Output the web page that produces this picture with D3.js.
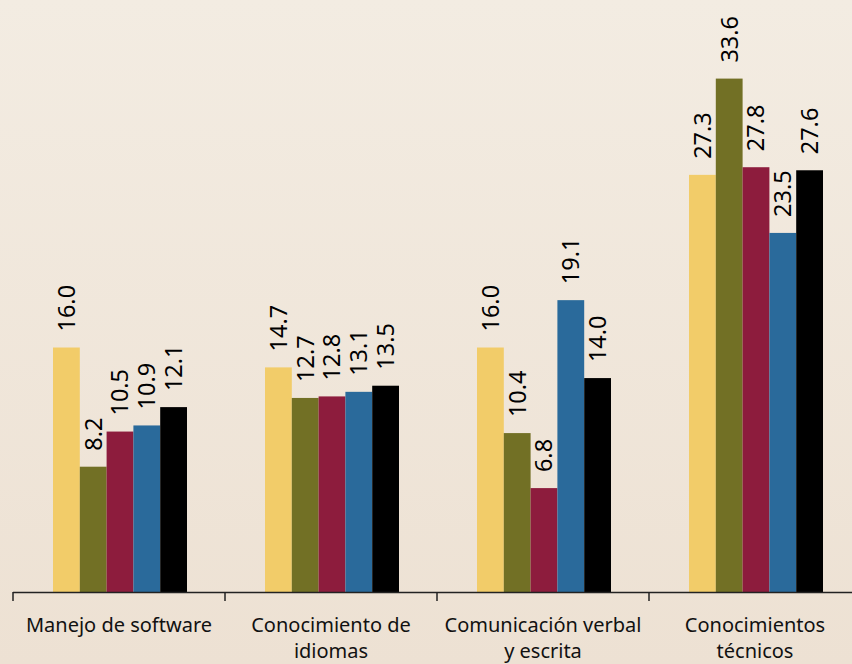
<!DOCTYPE html>
<html><head><meta charset="utf-8">
<script src="https://cdn.jsdelivr.net/npm/d3@7"></script>
<style>html,body{margin:0;padding:0;}svg{display:block;}</style>
</head><body>
<script>
const categories = [["Manejo de software"], ["Conocimiento de", "idiomas"], ["Comunicación verbal", "y escrita"], ["Conocimientos", "técnicos"]];
const seriesNames = ["S1", "S2", "S3", "S4", "S5"];
const s1 = [16.0, 14.7, 16.0, 27.3];
const s2 = [8.2, 12.7, 10.4, 33.6];
const s3 = [10.5, 12.8, 6.8, 27.8];
const s4 = [10.9, 13.1, 19.1, 23.5];
const s5 = [12.1, 13.5, 14.0, 27.6];
const seriesValues = [s1, s2, s3, s4, s5];
const colors = ["#f2cc69", "#727025", "#8d1c3d", "#2a6a9b", "#000000"];

const W = 852, H = 664;
const svg = d3.select("body").append("svg").attr("width", W).attr("height", H);
const defs = svg.append("defs");
const g = defs.append("linearGradient").attr("id", "bg").attr("x1", 0).attr("y1", 0).attr("x2", 0).attr("y2", 1);
g.append("stop").attr("offset", "0%").attr("stop-color", "#f3ece2");
g.append("stop").attr("offset", "100%").attr("stop-color", "#ede1d3");
svg.append("rect").attr("width", W).attr("height", H).attr("fill", "url(#bg)");

const x0 = d3.scaleBand().domain(d3.range(categories.length)).range([13, 861]).padding(0);
const x1 = d3.scaleBand().domain(d3.range(seriesNames.length)).range([40, 174]).padding(0);
const y = d3.scaleLinear().domain([0, 38]).range([592, 592 - 38 * 15.28]);

const groups = svg.selectAll("g.grp").data(categories).join("g")
  .attr("transform", (d, i) => `translate(${x0(i)},0)`);

groups.each(function(d, ci) {
  const gg = d3.select(this);
  seriesValues.forEach((vals, si) => {
    const v = vals[ci];
    gg.append("rect")
      .attr("x", x1(si)).attr("width", x1.bandwidth())
      .attr("y", y(v)).attr("height", y(0) - y(v))
      .attr("fill", colors[si]);
  });
  seriesValues.forEach((vals, si) => {
    const v = vals[ci];
    const cx = x1(si) + x1.bandwidth() / 2;
    gg.append("text")
      .attr("transform", `translate(${cx},${y(v) - 16}) rotate(-90)`)
      .attr("dy", "0.36em")
      .attr("text-anchor", "start")
      .attr("font-family", "Noto Sans, sans-serif")
      .attr("font-size", 23.5)
      .attr("fill", "#000")
      .text(v.toFixed(1));
  });
});

// axis
const ax = svg.append("g");
ax.append("line").attr("x1", x0.range()[0]).attr("x2", x0.range()[1]).attr("y1", 592.5).attr("y2", 592.5)
  .attr("stroke", "#222").attr("stroke-width", 1.5);
const tickPos = d3.range(categories.length + 1).map(i => i < categories.length ? x0(i) : x0.range()[1]);
ax.selectAll("line.tick").data(tickPos).join("line")
  .attr("x1", d => d).attr("x2", d => d).attr("y1", 592).attr("y2", 601)
  .attr("stroke", "#222").attr("stroke-width", 1.5);

categories.forEach((lines, i) => {
  const t = svg.append("text")
    .attr("x", x0(i) + x0.bandwidth() / 2).attr("y", 632)
    .attr("text-anchor", "middle")
    .attr("font-family", "Noto Sans, sans-serif")
    .attr("font-size", 20).attr("fill", "#111");
  lines.forEach((l, k) => {
    t.append("tspan").attr("x", x0(i) + x0.bandwidth() / 2).attr("dy", k === 0 ? 0 : 26).text(l);
  });
});
</script>
</body></html>
